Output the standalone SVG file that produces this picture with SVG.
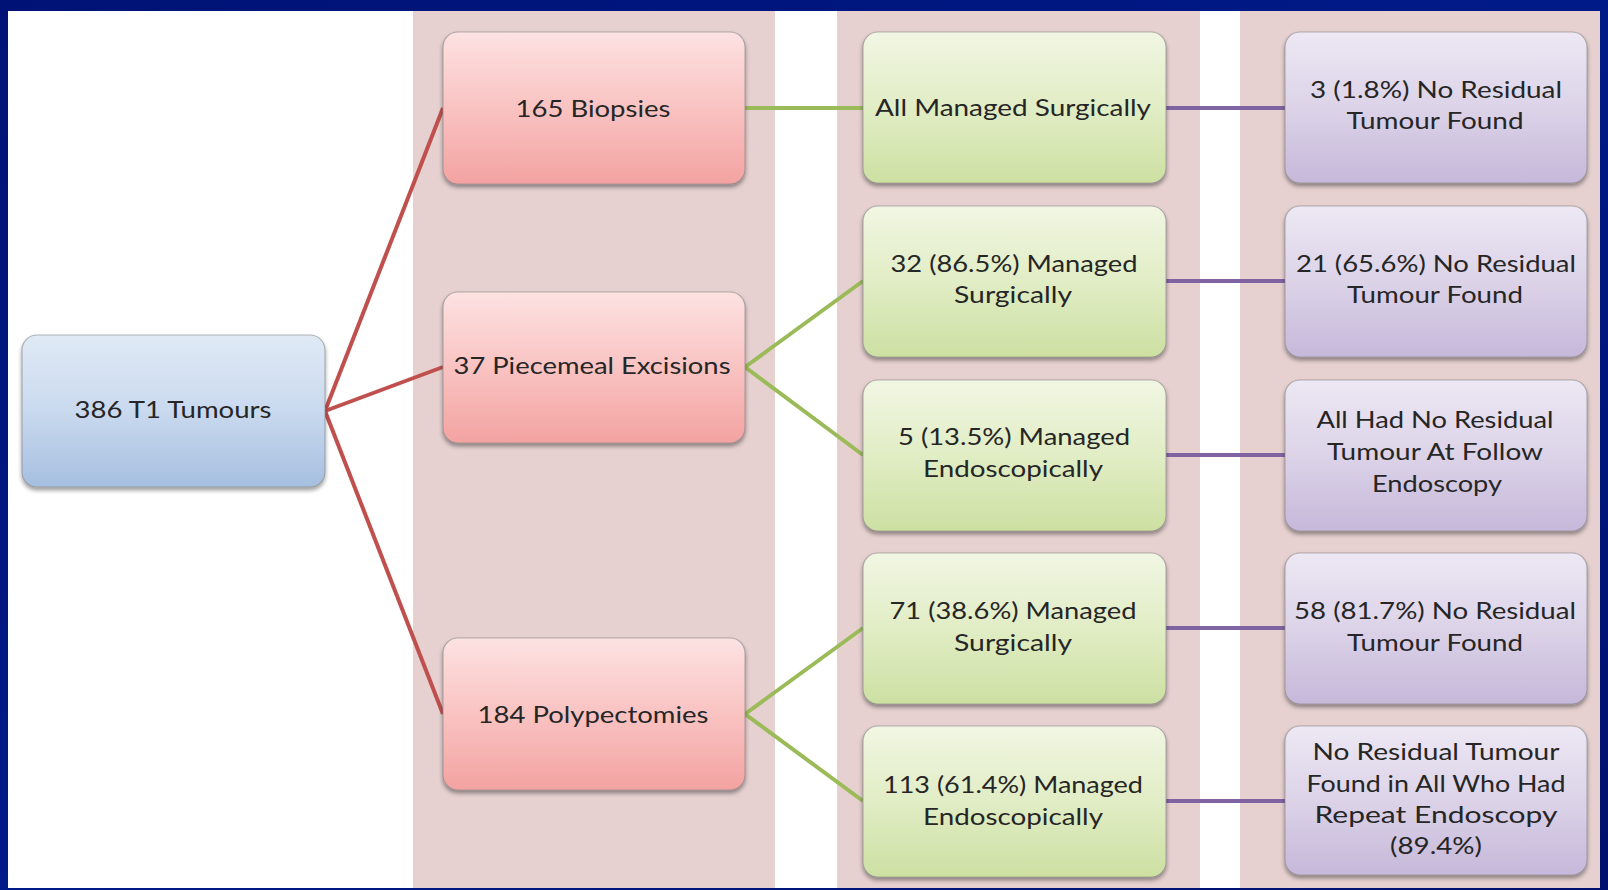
<svg xmlns="http://www.w3.org/2000/svg" width="1608" height="890" viewBox="0 0 1608 890">
<style>
.t{font-family:Lato,"Open Sans","Liberation Sans",sans-serif;font-size:23px;fill:#262626;text-anchor:middle}
.box{stroke:#7f7f7f;stroke-opacity:0.55;stroke-width:1.2}
.band{fill:#e6d0d0}
.red{stroke:#c0504d;stroke-width:4;fill:none}
.grn{stroke:#9bbb59;stroke-width:4;fill:none}
.pur{stroke:#8064a2;stroke-width:4;fill:none}
</style>
<defs>
<linearGradient id="frame" x1="0" y1="0" x2="1" y2="1">
<stop offset="0" stop-color="#001275"/>
<stop offset="0.5" stop-color="#001a88"/>
<stop offset="1" stop-color="#00106e"/>
</linearGradient>
<linearGradient id="gBlue" x1="0" y1="0" x2="0" y2="1">
<stop offset="0" stop-color="#e0eaf6"/>
<stop offset="0.5" stop-color="#c9d9ee"/>
<stop offset="1" stop-color="#a6bfe0"/>
</linearGradient>
<linearGradient id="gRed" x1="0" y1="0" x2="0" y2="1">
<stop offset="0" stop-color="#fde2e2"/>
<stop offset="0.5" stop-color="#f9c3c2"/>
<stop offset="1" stop-color="#f3a3a1"/>
</linearGradient>
<linearGradient id="gGrn" x1="0" y1="0" x2="0" y2="1">
<stop offset="0" stop-color="#f1f6e3"/>
<stop offset="0.5" stop-color="#e1edc5"/>
<stop offset="1" stop-color="#cde0a2"/>
</linearGradient>
<linearGradient id="gPur" x1="0" y1="0" x2="0" y2="1">
<stop offset="0" stop-color="#ede8f4"/>
<stop offset="0.5" stop-color="#dcd3e8"/>
<stop offset="1" stop-color="#c6b8da"/>
</linearGradient>
<filter id="sh" x="-10%" y="-10%" width="120%" height="130%">
<feDropShadow dx="0" dy="3" stdDeviation="2" flood-color="#000" flood-opacity="0.4"/>
</filter>
</defs>
<rect x="0" y="0" width="1608" height="890" fill="url(#frame)"/>
<rect x="8" y="11" width="1592" height="877" fill="#ffffff"/>
<g id="bands">
<rect class="band" x="413" y="11" width="362" height="877"/>
<rect class="band" x="837" y="11" width="363" height="877"/>
<rect class="band" x="1240" y="11" width="360" height="877"/>
</g>
<g id="connectors">
<line class="red" x1="325" y1="411" x2="443" y2="108"/>
<line class="red" x1="325" y1="411" x2="443" y2="367"/>
<line class="red" x1="325" y1="411" x2="443" y2="714"/>
<line class="grn" x1="745" y1="108" x2="863" y2="108"/>
<line class="grn" x1="745" y1="367" x2="863" y2="281"/>
<line class="grn" x1="745" y1="367" x2="863" y2="455"/>
<line class="grn" x1="745" y1="714" x2="863" y2="628"/>
<line class="grn" x1="745" y1="714" x2="863" y2="801"/>
<line class="pur" x1="1166" y1="108" x2="1285" y2="108"/>
<line class="pur" x1="1166" y1="281" x2="1285" y2="281"/>
<line class="pur" x1="1166" y1="455" x2="1285" y2="455"/>
<line class="pur" x1="1166" y1="628" x2="1285" y2="628"/>
<line class="pur" x1="1166" y1="801" x2="1285" y2="801"/>
</g>
<g id="root">
<rect class="box" x="22" y="335" width="303" height="152" rx="15" fill="url(#gBlue)" filter="url(#sh)"/>
<text class="t" x="173" y="418" textLength="197" lengthAdjust="spacingAndGlyphs">386 T1 Tumours</text>
</g>
<g id="biopsies">
<rect class="box" x="443" y="32" width="302" height="152" rx="15" fill="url(#gRed)" filter="url(#sh)"/>
<text class="t" x="593" y="117" textLength="155" lengthAdjust="spacingAndGlyphs">165 Biopsies</text>
</g>
<g id="piecemeal">
<rect class="box" x="443" y="292" width="302" height="151" rx="15" fill="url(#gRed)" filter="url(#sh)"/>
<text class="t" x="592" y="374" textLength="277" lengthAdjust="spacingAndGlyphs">37 Piecemeal Excisions</text>
</g>
<g id="polypectomies">
<rect class="box" x="443" y="638" width="302" height="152" rx="15" fill="url(#gRed)" filter="url(#sh)"/>
<text class="t" x="593" y="723" textLength="231" lengthAdjust="spacingAndGlyphs">184 Polypectomies</text>
</g>
<g id="g1">
<rect class="box" x="863" y="32" width="303" height="151" rx="15" fill="url(#gGrn)" filter="url(#sh)"/>
<text class="t" x="1013" y="116" textLength="276" lengthAdjust="spacingAndGlyphs">All Managed Surgically</text>
</g>
<g id="g2">
<rect class="box" x="863" y="206" width="303" height="151" rx="15" fill="url(#gGrn)" filter="url(#sh)"/>
<text class="t" x="1014" y="272" textLength="247" lengthAdjust="spacingAndGlyphs">32 (86.5%) Managed</text>
<text class="t" x="1013" y="303" textLength="118" lengthAdjust="spacingAndGlyphs">Surgically</text>
</g>
<g id="g3">
<rect class="box" x="863" y="380" width="303" height="151" rx="15" fill="url(#gGrn)" filter="url(#sh)"/>
<text class="t" x="1014" y="445" textLength="232" lengthAdjust="spacingAndGlyphs">5 (13.5%) Managed</text>
<text class="t" x="1013" y="477" textLength="180" lengthAdjust="spacingAndGlyphs">Endoscopically</text>
</g>
<g id="g4">
<rect class="box" x="863" y="553" width="303" height="151" rx="15" fill="url(#gGrn)" filter="url(#sh)"/>
<text class="t" x="1013" y="619" textLength="247" lengthAdjust="spacingAndGlyphs">71 (38.6%) Managed</text>
<text class="t" x="1013" y="651" textLength="118" lengthAdjust="spacingAndGlyphs">Surgically</text>
</g>
<g id="g5">
<rect class="box" x="863" y="726" width="303" height="151" rx="15" fill="url(#gGrn)" filter="url(#sh)"/>
<text class="t" x="1013" y="793" textLength="260" lengthAdjust="spacingAndGlyphs">113 (61.4%) Managed</text>
<text class="t" x="1013" y="825" textLength="180" lengthAdjust="spacingAndGlyphs">Endoscopically</text>
</g>
<g id="p1">
<rect class="box" x="1285" y="32" width="302" height="151" rx="15" fill="url(#gPur)" filter="url(#sh)"/>
<text class="t" x="1436" y="98" textLength="252" lengthAdjust="spacingAndGlyphs">3 (1.8%) No Residual</text>
<text class="t" x="1435" y="129" textLength="177" lengthAdjust="spacingAndGlyphs">Tumour Found</text>
</g>
<g id="p2">
<rect class="box" x="1285" y="206" width="302" height="151" rx="15" fill="url(#gPur)" filter="url(#sh)"/>
<text class="t" x="1436" y="272" textLength="280" lengthAdjust="spacingAndGlyphs">21 (65.6%) No Residual</text>
<text class="t" x="1435" y="303" textLength="176" lengthAdjust="spacingAndGlyphs">Tumour Found</text>
</g>
<g id="p3">
<rect class="box" x="1285" y="380" width="302" height="151" rx="15" fill="url(#gPur)" filter="url(#sh)"/>
<text class="t" x="1435" y="428" textLength="237" lengthAdjust="spacingAndGlyphs">All Had No Residual</text>
<text class="t" x="1435" y="460" textLength="216" lengthAdjust="spacingAndGlyphs">Tumour At Follow</text>
<text class="t" x="1437" y="492" textLength="130" lengthAdjust="spacingAndGlyphs">Endoscopy</text>
</g>
<g id="p4">
<rect class="box" x="1285" y="553" width="302" height="151" rx="15" fill="url(#gPur)" filter="url(#sh)"/>
<text class="t" x="1435" y="619" textLength="282" lengthAdjust="spacingAndGlyphs">58 (81.7%) No Residual</text>
<text class="t" x="1435" y="651" textLength="176" lengthAdjust="spacingAndGlyphs">Tumour Found</text>
</g>
<g id="p5">
<rect class="box" x="1285" y="726" width="302" height="149" rx="15" fill="url(#gPur)" filter="url(#sh)"/>
<text class="t" x="1436" y="760" textLength="247" lengthAdjust="spacingAndGlyphs">No Residual Tumour</text>
<text class="t" x="1436" y="792" textLength="259" lengthAdjust="spacingAndGlyphs">Found in All Who Had</text>
<text class="t" x="1436" y="823" textLength="243" lengthAdjust="spacingAndGlyphs">Repeat Endoscopy</text>
<text class="t" x="1436" y="854" textLength="92" lengthAdjust="spacingAndGlyphs">(89.4%)</text>
</g>
</svg>
